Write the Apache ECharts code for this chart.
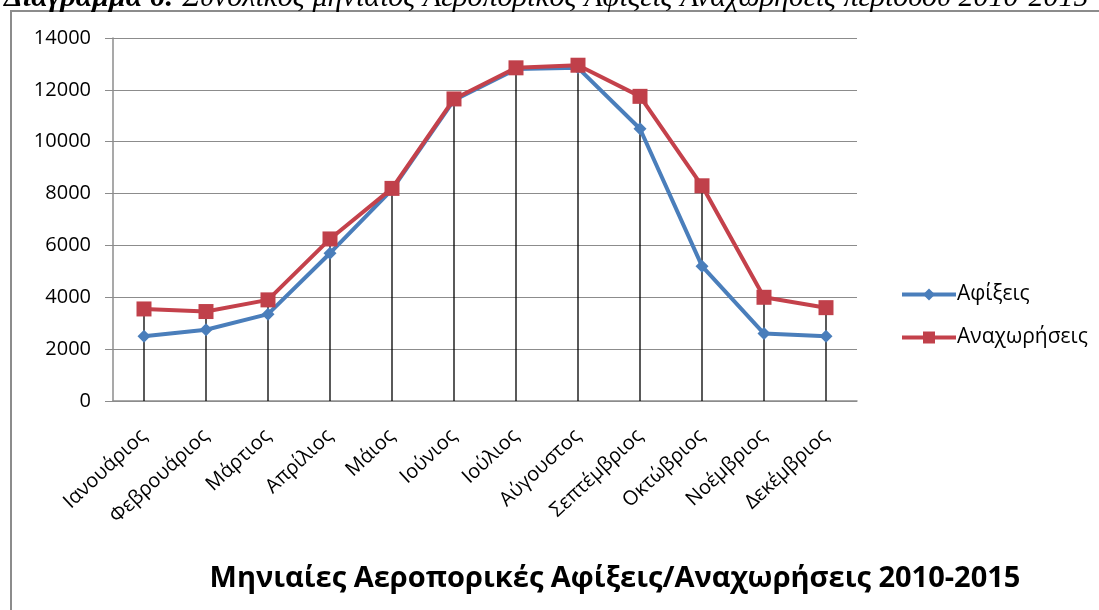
<!DOCTYPE html>
<html><head><meta charset="utf-8">
<script src="https://cdn.jsdelivr.net/npm/echarts@6/dist/echarts.min.js"></script>
<style>html,body{margin:0;padding:0;background:#fff}#c{width:1099px;height:610px}</style>
</head><body><div id="c"></div>
<script>
const months = ['Ιανουάριος','Φεβρουάριος','Μάρτιος','Απρίλιος','Μάιος','Ιούνιος','Ιούλιος','Αύγουστος','Σεπτέμβριος','Οκτώβριος','Νοέμβριος','Δεκέμβριος'];
const arrivals = [2500, 2750, 3350, 5700, 8150, 11600, 12800, 12850, 10500, 5200, 2600, 2500];
const departures = [3550, 3450, 3900, 6250, 8200, 11650, 12850, 12950, 11750, 8300, 4000, 3600];
const yTicks = [0, 2000, 4000, 6000, 8000, 10000, 12000, 14000];
const seriesNames = ['Αφίξεις', 'Αναχωρήσεις'];
const chartTitle = 'Μηνιαίες Αεροπορικές Αφίξεις/Αναχωρήσεις 2010-2015';
const captionBold = 'Διάγραμμα 6:';
const captionRest = ' Συνολικός μηνιαίος Αεροπορικός Αφίξεις Αναχωρήσεις περιόδου 2010-2015';

const dropTop = months.map((m, i) => Math.max(arrivals[i], departures[i]));
const font = '"Open Sans", "Noto Sans", sans-serif';
const serif = '"Liberation Serif", "DejaVu Serif", serif';

const chart = echarts.init(document.getElementById('c'), null, {renderer: 'canvas'});
chart.setOption({
  animation: false,
  backgroundColor: '#fff',
  graphic: [
    {type: 'rect', shape: {x: 11, y: 11, width: 1200, height: 700},
     style: {fill: 'none', stroke: '#8c8c8c', lineWidth: 2}, z: 0},
    {type: 'text', left: 4, top: -17, z: 10,
     style: {
       text: '{b|' + captionBold + '}{i|' + captionRest + '}',
       rich: {
         b: {font: 'italic bold 30px ' + serif, fill: '#000'},
         i: {font: 'italic 30px ' + serif, fill: '#000'}
       }
     }}
  ],
  title: {
    text: chartTitle, left: 610, top: 559, textAlign: 'center',
    textStyle: {fontFamily: font, fontWeight: 'bold', fontSize: 29, color: '#000'}
  },
  legend: {
    data: seriesNames, orient: 'vertical', left: 895, top: 279,
    itemWidth: 54, itemHeight: 15, itemGap: 22,
    lineStyle: {width: 4},
    textStyle: {fontFamily: font, fontSize: 21, color: '#000', padding: [0, 0, 0, -4]}
  },
  grid: {left: 113, right: 242, top: 38, bottom: 209, containLabel: false},
  xAxis: {
    type: 'category', data: months, boundaryGap: true,
    axisLine: {lineStyle: {color: '#8c8c8c', width: 1.5}},
    axisTick: {show: false},
    axisLabel: {rotate: 43, fontFamily: font, fontSize: 20, color: '#000', margin: 32, interval: 0}
  },
  yAxis: {
    type: 'value', min: 0, max: 14000, interval: 2000,
    axisLine: {show: true, lineStyle: {color: '#8c8c8c', width: 1.5}},
    axisTick: {show: true, length: 8, lineStyle: {color: '#8c8c8c'}},
    splitLine: {lineStyle: {color: '#8c8c8c', width: 1}},
    axisLabel: {fontFamily: font, fontSize: 20, color: '#000', margin: 22,
      formatter: v => yTicks.includes(v) ? String(v) : ''}
  },
  series: [
    {name: 'drop', type: 'bar', data: dropTop, barWidth: 1.3, silent: true,
     itemStyle: {color: '#000'}, z: 1, legendHoverLink: false},
    {name: seriesNames[0], type: 'line', data: arrivals, z: 3,
     symbol: 'diamond', symbolSize: 13,
     lineStyle: {color: '#4a7ebb', width: 4},
     itemStyle: {color: '#4a7ebb'}},
    {name: seriesNames[1], type: 'line', data: departures, z: 4,
     symbol: 'rect', symbolSize: 15,
     lineStyle: {color: '#c4414b', width: 4},
     itemStyle: {color: '#c0404a'}}
  ]
});
</script></body></html>
